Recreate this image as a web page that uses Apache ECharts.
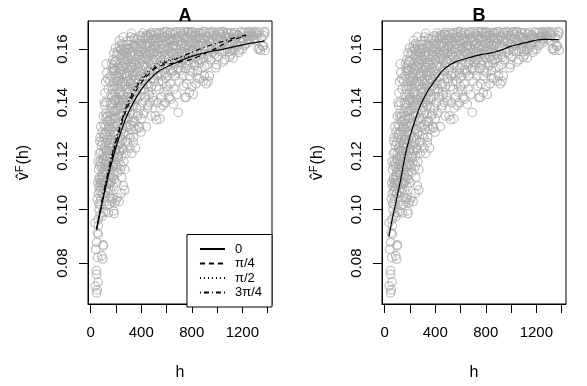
<!DOCTYPE html>
<html><head><meta charset="utf-8">
<script src="https://cdn.jsdelivr.net/npm/echarts@6/dist/echarts.min.js"></script>
<style>html,body{margin:0;padding:0;background:#fff}#c{width:587px;height:386px}</style>
</head><body><div id="c"></div>
<script>
// ---- data ----
const panelTitles = ['A', 'B'];
const xTicks = [0, 200, 400, 600, 800, 1000, 1200, 1400];
const xTickLabels = [0, 400, 800, 1200];
const yTicks = [0.08, 0.10, 0.12, 0.14, 0.16];
const legendNames = ['0', 'π/4', 'π/2', '3π/4'];

// empirical cloud [h, value] (same in both panels)
const cloudPoints = [
[46,0.0689],[52,0.0700],[36,0.0714],[58,0.0729],[46,0.0758],[46,0.0772],
[55,0.0821],[87,0.0827],[95,0.0815],[40,0.0852],[47,0.0877],[100,0.0868],[98,0.0864],
[52,0.0913],[60,0.0907],[34,0.0950],[60,0.0940],[58,0.0963],[74,0.0980],[90,0.0975],
[100,0.0990],[120,0.0992],[140,0.0988],[180,0.0995],[185,0.0985],[150,0.1020],[165,0.1030],
[175,0.1040],[190,0.1025],[200,0.1035],[210,0.1045],[225,0.1030],[160,0.1045],[130,0.1015],
[115,0.1030],[270,0.1073],[240,0.1060],[75,0.1018],[66,0.1000],[80,0.1040],[95,0.1060],[110,0.1050],
[52,0.1040],[60,0.1060],[65,0.1085],[55,0.1100],[70,0.1120],[62,0.1150],[75,0.1180],[58,0.1180],
[80,0.1100],[72,0.1070],[68,0.1210],[85,0.1240],[75,0.1270],[90,0.1290],[80,0.1310],[100,0.1350],[72,0.1255],
[85,0.1080],[90,0.1110],[95,0.1130],[100,0.1100],[105,0.1150],[110,0.1170],[88,0.1160],[95,0.1190],
[100,0.1210],[115,0.1200],[120,0.1130],[125,0.1180],[110,0.1230],[120,0.1250],[105,0.1270],[125,0.1290],
[115,0.1310],[130,0.1330],[120,0.1360],[110,0.1390],[126,0.1400],[135,0.1350],[95,0.1140],[130,0.1100],
[135,0.1140],[128,0.1220],
[140,0.1080],[145,0.1120],[150,0.1150],[155,0.1100],[160,0.1130],[165,0.1170],[170,0.1120],[175,0.1160],
[180,0.1200],[185,0.1140],[190,0.1180],[195,0.1220],[140,0.1180],[145,0.1220],[150,0.1250],[155,0.1280],
[160,0.1230],[165,0.1300],[170,0.1260],[175,0.1320],[180,0.1290],[185,0.1340],[190,0.1310],[195,0.1370],
[145,0.1330],[150,0.1360],[155,0.1400],[160,0.1430],[165,0.1380],[170,0.1420],[175,0.1450],[180,0.1480],
[185,0.1410],[190,0.1460],[139,0.1450],[150,0.1480],[160,0.1500],[170,0.1520],[180,0.1540],[192,0.1554],
[176,0.1560],[165,0.1545],[200,0.1500],[198,0.1410],
[215,0.1590],[225,0.1610],[235,0.1600],[245,0.1620],[255,0.1580],[240,0.1575],[260,0.1615],[270,0.1600],
[250,0.1560],[258,0.1645],[324,0.1659],[290,0.1630],[280,0.1585],[230,0.1545],[210,0.1530],[200,0.1555],
[220,0.1510],[190,0.1520],[205,0.1480],[215,0.1465],[225,0.1495],[235,0.1525],[245,0.1505],[255,0.1535],
[265,0.1555],[275,0.1545],
[205,0.1100],[215,0.1140],[225,0.1180],[235,0.1150],[245,0.1200],[255,0.1230],[210,0.1200],[220,0.1240],
[230,0.1270],[240,0.1300],[250,0.1260],[260,0.1330],[205,0.1280],[215,0.1320],[225,0.1350],[235,0.1380],
[245,0.1350],[255,0.1400],[210,0.1370],[220,0.1410],[230,0.1440],[240,0.1420],[250,0.1460],[260,0.1430],
[258,0.1090],[245,0.1120],[232,0.1216],[262,0.1180],[250,0.1480],[238,0.1470],
[270,0.1150],[280,0.1210],[290,0.1250],[300,0.1280],[310,0.1230],[320,0.1300],[330,0.1330],[340,0.1270],
[270,0.1290],[280,0.1340],[290,0.1370],[300,0.1400],[310,0.1360],[320,0.1420],[330,0.1450],[340,0.1390],
[275,0.1410],[285,0.1450],[295,0.1480],[305,0.1510],[315,0.1470],[325,0.1530],[335,0.1500],[345,0.1550],
[280,0.1500],[290,0.1530],[300,0.1560],[310,0.1580],[320,0.1550],[330,0.1590],[340,0.1610],[350,0.1580],
[285,0.1585],[300,0.1617],[320,0.1630],[345,0.1640],[325,0.1210],[337,0.1250],[350,0.1330],[348,0.1440],
[355,0.1230],[295,0.1600],[315,0.1645],
[360,0.1300],[370,0.1350],[380,0.1310],[390,0.1380],[400,0.1340],[410,0.1400],[420,0.1360],[430,0.1420],
[440,0.1310],[450,0.1380],[460,0.1440],[470,0.1400],[480,0.1460],[490,0.1420],[500,0.1480],
[360,0.1420],[375,0.1460],[385,0.1500],[395,0.1450],[405,0.1520],[415,0.1480],[425,0.1540],[435,0.1500],
[445,0.1560],[455,0.1520],[465,0.1580],[475,0.1540],[485,0.1600],[495,0.1560],
[365,0.1540],[380,0.1580],[390,0.1610],[400,0.1560],[410,0.1620],[420,0.1590],[430,0.1640],[440,0.1610],
[450,0.1650],[460,0.1620],[470,0.1655],[482,0.1653],[490,0.1630],[500,0.1610],
[362,0.1490],[372,0.1600],[395,0.1650],[415,0.1660],[445,0.1470],[455,0.1390],[468,0.1500],[478,0.1350],
[360,0.1380],[398,0.1290],[425,0.1440],
[510,0.1350],[522,0.1336],[548,0.1339],[530,0.1400],[540,0.1450],[550,0.1380],[560,0.1420],[570,0.1480],
[580,0.1440],[588,0.1400],[600,0.1460],[610,0.1500],[620,0.1420],[630,0.1470],[640,0.1510],[653,0.1394],
[660,0.1450],[670,0.1500],[680,0.1430],[693,0.1363],[700,0.1480],
[505,0.1520],[515,0.1560],[525,0.1500],[535,0.1580],[545,0.1540],[555,0.1600],[565,0.1560],[575,0.1620],
[585,0.1580],[595,0.1530],[605,0.1600],[615,0.1560],[625,0.1630],[635,0.1590],[645,0.1550],[655,0.1610],
[665,0.1570],[675,0.1640],[685,0.1600],[695,0.1530],
[510,0.1640],[525,0.1620],[540,0.1655],[555,0.1640],[570,0.1660],[585,0.1645],[600,0.1665],[615,0.1640],
[630,0.1660],[645,0.1630],[660,0.1655],[675,0.1665],[690,0.1640],[520,0.1460],[560,0.1500],[590,0.1510],
[650,0.1520],[680,0.1560],[530,0.1600],[610,0.1620],
[710,0.1520],[720,0.1560],[730,0.1500],[746,0.1419],[755,0.1420],[760,0.1470],[770,0.1540],[780,0.1500],
[790,0.1580],[800,0.1460],[812,0.1431],[820,0.1550],[835,0.1470],[845,0.1520],[860,0.1490],[870,0.1560],
[880,0.1530],[890,0.1480],[900,0.1500],
[705,0.1600],[715,0.1630],[725,0.1590],[735,0.1650],[745,0.1610],[755,0.1580],[765,0.1640],[775,0.1600],
[785,0.1660],[795,0.1620],[805,0.1590],[815,0.1650],[825,0.1610],[840,0.1640],[855,0.1600],[865,0.1660],
[875,0.1620],[885,0.1580],[895,0.1640],
[710,0.1665],[740,0.1666],[770,0.1665],[800,0.1666],[830,0.1660],[860,0.1640],[890,0.1665],[720,0.1540],
[750,0.1550],[790,0.1520],[830,0.1570],[850,0.1560],
[915,0.1470],[930,0.1480],[940,0.1500],[996,0.1542],[990,0.1530],[920,0.1540],[950,0.1560],[980,0.1580],
[1010,0.1570],[1040,0.1590],[1060,0.1560],[1080,0.1600],
[910,0.1610],[925,0.1580],[940,0.1630],[955,0.1600],[970,0.1650],[985,0.1620],[1000,0.1640],[1015,0.1610],
[1030,0.1655],[1045,0.1630],[1060,0.1650],[1075,0.1620],[1090,0.1660],
[905,0.1665],[935,0.1660],[965,0.1666],[1020,0.1665],[1050,0.1666],[1085,0.1640],[1100,0.1590],
[1128,0.1567],[1110,0.1580],[1140,0.1600],[1120,0.1620],[1150,0.1640],[1130,0.1655],[1160,0.1610],
[1170,0.1650],[1180,0.1630],[1190,0.1665],[1200,0.1600],[1210,0.1640],[1220,0.1660],[1230,0.1620],
[1240,0.1650],[1250,0.1666],[1260,0.1640],[1270,0.1660],[1285,0.1650],[1300,0.1665],[1325,0.1600],
[1335,0.1602],[1345,0.1595],[1360,0.1610],[1370,0.1650],[1378,0.1660],[1381,0.1595],[1315,0.1660],
[1290,0.1640],[1250,0.1635],
[63,0.1023],[67,0.1112],[71,0.1163],[77,0.1097],[79,0.1214],[83,0.1172],[86,0.1123],[91,0.1058],[93,0.1251],
[97,0.1089],[102,0.1186],[104,0.1318],[108,0.1101],[111,0.1283],[113,0.1139],[117,0.1067],[119,0.1221],
[122,0.1347],[124,0.1083],[127,0.1157],[131,0.1263],[133,0.1198],[136,0.1064],[138,0.1302],[142,0.1241],
[144,0.1157],[147,0.1096],[149,0.1311],[112,0.1436],[118,0.1478],[128,0.1512],[134,0.1489],[123,0.1544],[107,0.1401],
[152,0.1192],[154,0.1337],[157,0.1072],[158,0.1263],[162,0.1351],[163,0.1106],[167,0.1233],[168,0.1462],
[172,0.1189],[173,0.1394],[177,0.1086],[178,0.1243],[182,0.1368],[183,0.1517],[187,0.1262],[188,0.1113],
[193,0.1432],[194,0.1281],[197,0.1166],[199,0.1343],[202,0.1227],[204,0.1419],[207,0.1158],[208,0.1313],
[212,0.1452],[213,0.1264],[217,0.1381],[218,0.1195],[222,0.1327],[223,0.1481],[227,0.1221],[228,0.1402],
[232,0.1359],[233,0.1518],[237,0.1247],[238,0.1431],[242,0.1389],[243,0.1163],[247,0.1303],[248,0.1536],
[252,0.1412],[253,0.1224],[257,0.1361],[258,0.1478],[262,0.1283],[263,0.1593],[183,0.1585],[196,0.1604],
[207,0.1578],[228,0.1632],[243,0.1596],[176,0.1528],
[266,0.1389],[268,0.1508],[272,0.1343],[274,0.1466],[277,0.1253],[279,0.1562],[283,0.1419],[286,0.1308],
[288,0.1497],[292,0.1436],[294,0.1571],[297,0.1342],[299,0.1452],[303,0.1519],[305,0.1382],[308,0.1603],
[312,0.1443],[314,0.1318],[317,0.1534],[319,0.1486],[323,0.1402],[326,0.1573],[328,0.1462],[332,0.1531],
[334,0.1357],[338,0.1618],[341,0.1483],[343,0.1541],[347,0.1412],[351,0.1502],[353,0.1613],[357,0.1459],
[359,0.1561],[363,0.1514],[367,0.1637],[369,0.1413],[373,0.1528],[377,0.1574],[379,0.1487],[383,0.1622],
[387,0.1546],[389,0.1423],[393,0.1589],[397,0.1507],[399,0.1632],[403,0.1471],[407,0.1578],[409,0.1644],
[413,0.1536],[417,0.1603],[419,0.1452],[377,0.1359],[341,0.1312],[311,0.1268],[386,0.1305],
[423,0.1568],[427,0.1617],[431,0.1497],[434,0.1583],[438,0.1652],[442,0.1534],[446,0.1618],[451,0.1577],
[454,0.1466],[458,0.1643],[462,0.1556],[466,0.1611],[471,0.1516],[474,0.1594],[478,0.1662],[483,0.1547],
[487,0.1638],[492,0.1583],[496,0.1492],[499,0.1651],[503,0.1586],[508,0.1613],[513,0.1532],[517,0.1661],
[521,0.1579],[527,0.1641],[532,0.1511],[536,0.1626],[542,0.1571],[547,0.1662],[551,0.1548],[557,0.1618],
[562,0.1587],[567,0.1644],[573,0.1537],[578,0.1603],[583,0.1665],[589,0.1566],[594,0.1628],[598,0.1493],
[604,0.1582],[609,0.1652],[614,0.1541],[619,0.1607],[624,0.1573],[628,0.1662],[633,0.1522],[638,0.1638],
[643,0.1586],[648,0.1612],[463,0.1428],[497,0.1407],[537,0.1478],[573,0.1389],[612,0.1448],[633,0.1413],
[654,0.1582],[659,0.1633],[664,0.1547],[669,0.1612],[673,0.1661],[678,0.1586],[683,0.1524],[688,0.1627],
[694,0.1573],[699,0.1648],[704,0.1551],[711,0.1614],[717,0.1583],[723,0.1657],[728,0.1621],[733,0.1562],
[739,0.1604],[744,0.1643],[751,0.1528],[757,0.1617],[762,0.1663],[768,0.1584],[773,0.1627],[779,0.1558],
[786,0.1612],[792,0.1648],[797,0.1571],[803,0.1632],[809,0.1662],[816,0.1596],[822,0.1538],[828,0.1625],
[834,0.1651],[841,0.1589],[847,0.1616],[853,0.1662],[858,0.1547],[864,0.1613],[871,0.1641],[877,0.1583],
[883,0.1658],[888,0.1622],[894,0.1566],[901,0.1631],[908,0.1592],[917,0.1648],[926,0.1613],[934,0.1571],
[942,0.1662],[948,0.1627],[734,0.1462],[781,0.1437],[846,0.1492],[808,0.1513],[902,0.1534],
[957,0.1641],[963,0.1587],[972,0.1627],[978,0.1661],[987,0.1598],[994,0.1652],[1003,0.1618],[1011,0.1662],
[1019,0.1592],[1027,0.1637],[1036,0.1614],[1044,0.1663],[1053,0.1627],[1063,0.1594],[1071,0.1646],[1079,0.1661],
[1088,0.1612],[1097,0.1643],[1106,0.1628],[1114,0.1661],[1123,0.1597],[1133,0.1637],[1142,0.1662],[1152,0.1618],
[1163,0.1653],[1174,0.1596],[1184,0.1642],[1196,0.1626],[1207,0.1662],[1218,0.1614],[1232,0.1647],[1244,0.1661],
[1258,0.1626],[1273,0.1648],[1288,0.1663],[1302,0.1632],[1318,0.1652],[1333,0.1664],[1352,0.1642],[1367,0.1612],
[1376,0.1666],[1045,0.1552],[1098,0.1571],[1173,0.1588]
];

// panel A directional fits
const dir0H   = [47,116,168,221,287,353,432,538,669,801,946,1050,1165,1270,1376];
const dir0V   = [0.0930,0.1080,0.1179,0.1265,0.1351,0.1413,0.1468,0.1517,0.1548,0.1573,0.1591,0.1600,0.1612,0.1622,0.1631];
const dir45H  = [47,100,160,221,287,353,432,538,669,800,900,1000,1100,1230];
const dir45V  = [0.0926,0.1045,0.1175,0.1285,0.1378,0.1440,0.1492,0.1535,0.1548,0.1562,0.1583,0.1605,0.1630,0.1650];
const dir90H  = [47,100,160,221,287,353,432,538,669,801,900];
const dir90V  = [0.0926,0.1060,0.1195,0.1300,0.1395,0.1460,0.1508,0.1548,0.1565,0.1575,0.1582];
const dir135H = [47,100,160,221,287,353,432,538,669,800,920,1040,1160,1230];
const dir135V = [0.0926,0.1055,0.1185,0.1292,0.1388,0.1452,0.1500,0.1540,0.1562,0.1588,0.1610,0.1628,0.1645,0.1652];
// panel B overall fit
const fitBH = [34,60,95,130,161,195,227,265,306,345,385,425,465,520,571,640,703,770,835,880,915,955,994,1050,1099,1150,1205,1250,1300,1340,1377];
const fitBV = [0.0900,0.0965,0.1040,0.1120,0.1200,0.1265,0.1314,0.1368,0.1413,0.1447,0.1474,0.1500,0.1523,0.1542,0.1554,0.1564,0.1573,0.1580,0.1585,0.1590,0.1595,0.1602,0.1610,0.1617,0.1622,0.1628,0.1634,0.1636,0.1636,0.1635,0.1635];

// ---- chart ----
const FONT = 'Liberation Sans, Arial, sans-serif';
const zip = (a, b) => a.map((v, i) => [v, b[i]]);
const X_MIN = -21.4, X_MAX = 1435, Y_MIN = 0.0647, Y_MAX = 0.1705;

function xAxis(gi) {
  return {
    type: 'value', gridIndex: gi, min: X_MIN, max: X_MAX,
    axisLine: { show: true, onZero: false, lineStyle: { color: '#000', width: 1 } },
    axisTick: { show: true, customValues: xTicks, length: 9, lineStyle: { color: '#000' } },
    axisLabel: { customValues: xTickLabels, margin: 21, fontSize: 15, color: '#000', fontFamily: FONT,
                 formatter: v => String(v) },
    splitLine: { show: false },
    name: 'h', nameLocation: 'middle', nameGap: 61,
    nameTextStyle: { fontSize: 16, color: '#000', fontFamily: FONT }
  };
}
function yAxis(gi) {
  return {
    type: 'value', gridIndex: gi, min: Y_MIN, max: Y_MAX,
    axisLine: { show: true, onZero: false, lineStyle: { color: '#000', width: 1 } },
    axisTick: { show: true, customValues: yTicks, length: 9, lineStyle: { color: '#000' } },
    axisLabel: { customValues: yTicks, rotate: 90, margin: 18, fontSize: 15, color: '#000', fontFamily: FONT,
                 formatter: v => v.toFixed(2) },
    splitLine: { show: false },
    name: '{a|v\u0302}{b|F}{c|(h)}', nameLocation: 'middle', nameGap: 54, nameRotate: 90,
    nameTextStyle: {
      color: '#000', fontFamily: FONT,
      rich: {
        a: { fontSize: 16, fontFamily: FONT, color: '#000', lineHeight: 20 },
        b: { fontSize: 11, fontFamily: FONT, color: '#000', lineHeight: 20, verticalAlign: 'top', padding: [0, 1, 0, 0] },
        c: { fontSize: 16, fontFamily: FONT, color: '#000', lineHeight: 20 }
      }
    }
  };
}

const scatterStyle = { color: 'rgba(0,0,0,0)', borderColor: '#a9a9a9', borderWidth: 1.1 };
function cloudSeries(i) {
  return { type: 'scatter', xAxisIndex: i, yAxisIndex: i, data: cloudPoints, symbol: 'circle', symbolSize: 8.5,
           itemStyle: scatterStyle, silent: true, z: 2 };
}
function lineSeries(name, i, h, v, dash) {
  return { type: 'line', name, xAxisIndex: i, yAxisIndex: i, data: zip(h, v), symbol: 'none', smooth: 0.3,
           lineStyle: { color: '#000', width: 1.2, type: dash }, z: 5 };
}

const chart = echarts.init(document.getElementById('c'), null, { renderer: 'canvas' });
chart.setOption({
  animation: false,
  backgroundColor: '#fff',
  title: [
    { text: panelTitles[0], left: 180, top: 2, textAlign: 'center', textStyle: { fontSize: 18, fontWeight: 'bold', color: '#000', fontFamily: FONT } },
    { text: panelTitles[1], left: 474, top: 2, textAlign: 'center', textStyle: { fontSize: 18, fontWeight: 'bold', color: '#000', fontFamily: FONT } }
  ],
  grid: [
    { left: 88, right: 315, top: 21, bottom: 79, show: true, borderColor: '#000', borderWidth: 1, backgroundColor: 'transparent' },
    { left: 382, right: 21, top: 21, bottom: 79, show: true, borderColor: '#000', borderWidth: 1, backgroundColor: 'transparent' }
  ],
  xAxis: [xAxis(0), xAxis(1)],
  yAxis: [yAxis(0), yAxis(1)],
  legend: {
    data: legendNames, orient: 'vertical', right: 315, bottom: 79,
    itemWidth: 25, itemHeight: 14, itemGap: 1.5,
    padding: [8, 10, 8, 12], borderColor: '#000', borderWidth: 1, backgroundColor: '#fff',
    itemStyle: { color: 'rgba(0,0,0,0)', borderColor: 'rgba(0,0,0,0)', borderWidth: 0, opacity: 0 },
    textStyle: { fontSize: 13, color: '#000', fontFamily: FONT, padding: [0, 0, 0, 5] },
    selectedMode: false
  },
  series: [
    cloudSeries(0),
    lineSeries(legendNames[0], 0, dir0H, dir0V, 'solid'),
    lineSeries(legendNames[1], 0, dir45H, dir45V, [5, 4]),
    lineSeries(legendNames[2], 0, dir90H, dir90V, [1, 3]),
    lineSeries(legendNames[3], 0, dir135H, dir135V, [1, 3, 5, 3]),
    cloudSeries(1),
    lineSeries('fitB', 1, fitBH, fitBV, 'solid')
  ]
});
</script>
</body></html>
